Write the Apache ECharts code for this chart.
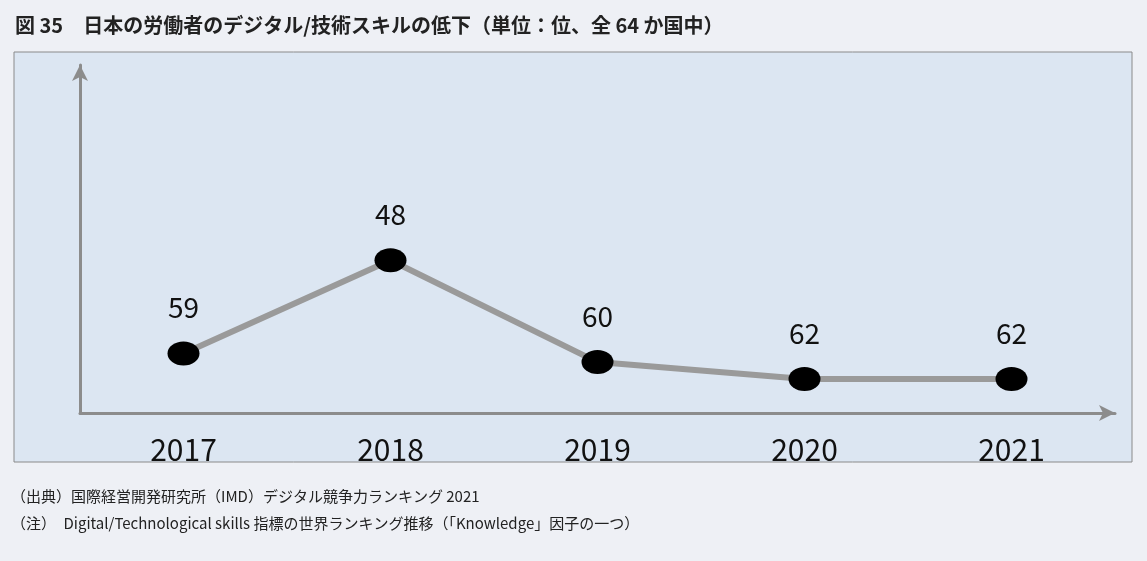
<!DOCTYPE html>
<html><head><meta charset="utf-8">
<script src="https://cdn.jsdelivr.net/npm/echarts@6/dist/echarts.min.js"></script>
<style>html,body{margin:0;padding:0;background:#eef0f5;}#main{width:1147px;height:561px;}</style>
</head><body><div id="main"></div>
<script>
var years = ['2017', '2018', '2019', '2020', '2021'];
var ranks = [59, 48, 60, 62, 62];
var font = '"Noto Sans CJK JP", sans-serif';

var chart = echarts.init(document.getElementById('main'));
chart.setOption({
	backgroundColor: '#eef0f5',
	title: [{
		text: '図 35　日本の労働者のデジタル/技術スキルの低下（単位：位、全 64 か国中）',
		left: 10, top: 10,
		textStyle: { fontFamily: font, fontSize: 20, fontWeight: 'bold', color: '#222' }
	}, {
		text: '（出典）国際経営開発研究所（IMD）デジタル競争力ランキング 2021',
		left: 6, top: 484,
		textStyle: { fontFamily: font, fontSize: 15, fontWeight: 'normal', color: '#222' }
	}, {
		text: '（注）　Digital/Technological skills 指標の世界ランキング推移（「Knowledge」因子の一つ）',
		left: 6, top: 511,
		textStyle: { fontFamily: font, fontSize: 15, fontWeight: 'normal', color: '#222' }
	}],
	graphic: [{
		type: 'rect', z: -1,
		shape: { x: 14, y: 52, width: 1118, height: 410 },
		style: { fill: '#dce6f2', stroke: '#8a8a8a', lineWidth: 1 }
	}],
	grid: { left: 80, right: 32, top: 65, bottom: 148 },
	xAxis: {
		type: 'category',
		data: years,
		axisLine: { lineStyle: { color: '#8c8c8c', width: 3 }, symbol: ['none', 'arrow'], symbolSize: [12, 16] },
		axisTick: { show: false },
		axisLabel: { fontFamily: font, fontSize: 30, color: '#111', margin: 22 }
	},
	yAxis: {
		type: 'value',
		inverse: true,
		min: 25, max: 66,
		splitLine: { show: false },
		axisLabel: { show: false },
		axisTick: { show: false },
		axisLine: { show: true, lineStyle: { color: '#8c8c8c', width: 3 }, symbol: ['none', 'arrow'], symbolSize: [12, 16] }
	},
	series: [{
		type: 'line',
		data: ranks,
		symbol: 'circle',
		symbolSize: [32, 24],
		itemStyle: { color: '#000' },
		lineStyle: { color: '#9a9a9a', width: 6 },
		label: {
			show: true, position: 'top', distance: 20,
			fontFamily: font, fontSize: 28, color: '#111'
		}
	}]
});
</script></body></html>
